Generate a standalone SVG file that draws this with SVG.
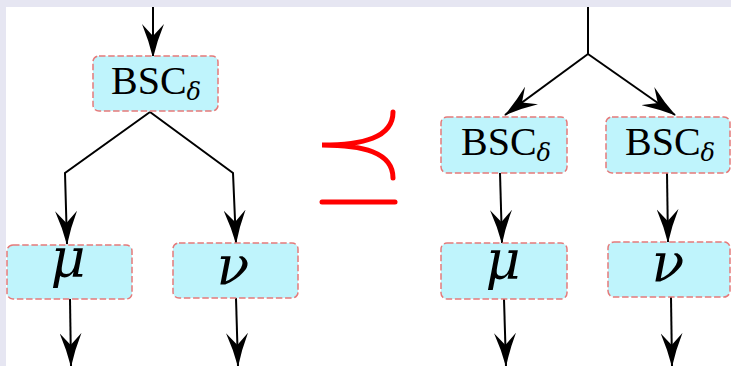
<svg xmlns="http://www.w3.org/2000/svg" width="731" height="366" viewBox="0 0 731 366">
<defs>
<style>
.box{fill:#bff4fc;stroke:#e57a7a;stroke-width:1.5;stroke-dasharray:6.5 2.7}
.edge{fill:none;stroke:#000;stroke-width:2}
.lbl{font-family:"Liberation Serif",serif;font-size:40px;fill:#000}
.sub{font-family:"DejaVu Serif",serif;font-style:italic;font-size:24px}
.greek{font-family:"DejaVu Serif",serif;font-style:italic;font-size:54px;fill:#000}
.rel{fill:none;stroke:#ff0000;stroke-width:5;stroke-linecap:round}
</style>
<marker id="ah" viewBox="0 0 34 22" markerWidth="34" markerHeight="22" refX="33" refY="11" orient="auto" markerUnits="userSpaceOnUse">
<path d="M34,11 Q17,15 0,22 L12,11 L0,0 Q17,7 34,11 Z" fill="#000"/>
</marker>
</defs>
<rect x="0" y="0" width="731" height="366" fill="#ffffff"/>
<rect x="0" y="0" width="731" height="7" fill="#e6e6f2"/>
<rect x="0" y="0" width="6" height="366" fill="#e6e6f2"/>

<g id="connectors">
<path class="edge" d="M153,7 L153,57" marker-end="url(#ah)"/>
<path class="edge" d="M150,112 L65,173 L67,244" marker-end="url(#ah)"/>
<path class="edge" d="M150,112 L233,173 L236,243" marker-end="url(#ah)"/>
<path class="edge" d="M70,299 L71,366" marker-end="url(#ah)"/>
<path class="edge" d="M236,298 L238,366" marker-end="url(#ah)"/>
<path class="edge" d="M588,7 L588,54"/>
<path class="edge" d="M588,54 L505,115" marker-end="url(#ah)"/>
<path class="edge" d="M588,54 L675,115" marker-end="url(#ah)"/>
<path class="edge" d="M500,173 L502,243" marker-end="url(#ah)"/>
<path class="edge" d="M667,173 L668,242" marker-end="url(#ah)"/>
<path class="edge" d="M504,299 L506,366" marker-end="url(#ah)"/>
<path class="edge" d="M671,297 L672,366" marker-end="url(#ah)"/>
</g>

<g id="bsc-left">
<rect class="box" x="93" y="56" width="125" height="55" rx="6"/>
<text class="lbl" x="156" y="94" text-anchor="middle">BSC<tspan class="sub" dy="6">δ</tspan></text>
</g>
<g id="mu-left">
<rect class="box" x="7" y="245" width="125" height="54" rx="6"/>
<text class="greek" x="68" y="277" text-anchor="middle">μ</text>
</g>
<g id="nu-left">
<rect class="box" x="173" y="243" width="125" height="55" rx="6"/>
<text class="greek" x="233" y="284" text-anchor="middle">ν</text>
</g>

<g id="relation">
<path class="rel" d="M393,112 C393,138 362,145 322,145 C362,145 393,152 393,178"/>
<path class="rel" d="M322,202 L395,202"/>
</g>

<g id="bsc-right1">
<rect class="box" x="441" y="117" width="126" height="56" rx="6"/>
<text class="lbl" x="506" y="155" text-anchor="middle">BSC<tspan class="sub" dy="6">δ</tspan></text>
</g>
<g id="bsc-right2">
<rect class="box" x="606" y="117" width="124" height="56" rx="6"/>
<text class="lbl" x="670" y="155" text-anchor="middle">BSC<tspan class="sub" dy="6">δ</tspan></text>
</g>
<g id="mu-right">
<rect class="box" x="441" y="243" width="126" height="56" rx="6"/>
<text class="greek" x="503" y="279" text-anchor="middle">μ</text>
</g>
<g id="nu-right">
<rect class="box" x="608" y="242" width="122" height="55" rx="6"/>
<text class="greek" x="668" y="281" text-anchor="middle">ν</text>
</g>
</svg>
